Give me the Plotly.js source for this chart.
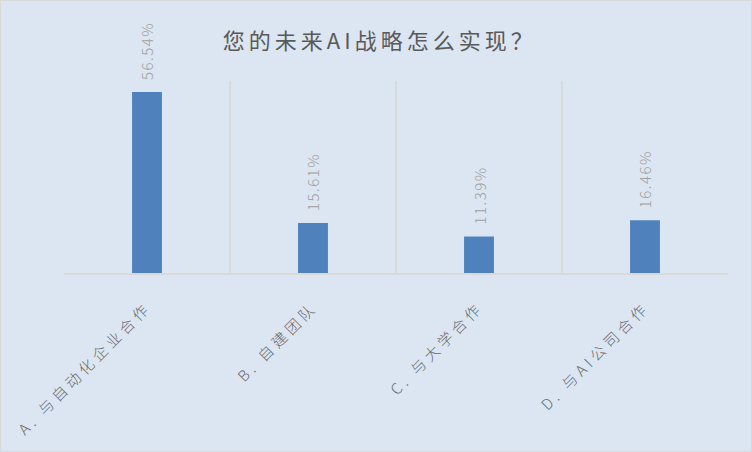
<!DOCTYPE html>
<html>
<head>
<meta charset="utf-8">
<script src="https://cdn.plot.ly/plotly-3.0.1.min.js"></script>
<style>
html,body{margin:0;padding:0;background:#fff;}
#chart{width:752px;height:452px;box-sizing:border-box;border:1px solid #D9D9D9;}
#chart .gtitle{letter-spacing:4px;}
#chart .xtick text{letter-spacing:4px;}
#chart .annotation-text{letter-spacing:1.5px;}
</style>
</head>
<body>
<div id="chart"></div>
<script>
const categories = ["A. 与自动化企业合作", "B. 自建团队", "C. 与大学合作", "D. 与AI公司合作"];
const values = [56.54, 15.61, 11.39, 16.46];
const valueLabels = ["56.54%", "15.61%", "11.39%", "16.46%"];
const titleText = "您的未来AI战略怎么实现？";

const font = '"Noto Sans CJK SC", "Noto Sans", sans-serif';

const annotations = categories.map((c, i) => ({
  x: c, y: values[i], xref: 'x', yref: 'y',
  text: valueLabels[i], textangle: -90,
  showarrow: false, xanchor: 'center', yanchor: 'bottom', yshift: 14,
  font: {family: font, size: 15, color: '#A0A0A0', weight: 300}
}));

Plotly.newPlot('chart', [{
  type: 'bar',
  x: categories,
  y: values,
  marker: {color: '#4F81BD'},
  width: 0.18,
  hoverinfo: 'none'
}], {
  width: 750, height: 450,
  paper_bgcolor: '#DCE6F2',
  plot_bgcolor: '#DCE6F2',
  margin: {l: 63, r: 23, t: 80, b: 178},
  title: {text: titleText, font: {family: font, size: 22, color: '#595959'}, x: 0.505, xanchor: 'center', y: 0.91, yanchor: 'middle'},
  showlegend: false,
  annotations: annotations,
  xaxis: {
    type: 'category',
    range: [-0.5, 3.5],
    tickson: 'boundaries',
    showgrid: true,
    gridcolor: '#D9D9D9',
    gridwidth: 2,
    showline: true,
    linecolor: '#D9D9D9',
    linewidth: 2,
    ticks: '',
    tickangle: -45,
    ticklabelstandoff: 18,
    tickfont: {family: font, size: 15, color: '#6A6A6A', weight: 300},
    fixedrange: true
  },
  yaxis: {
    range: [0, 60],
    showgrid: false,
    zeroline: false,
    showticklabels: false,
    ticks: '',
    fixedrange: true
  }
}, {displayModeBar: false, staticPlot: true});
</script>
</body>
</html>
